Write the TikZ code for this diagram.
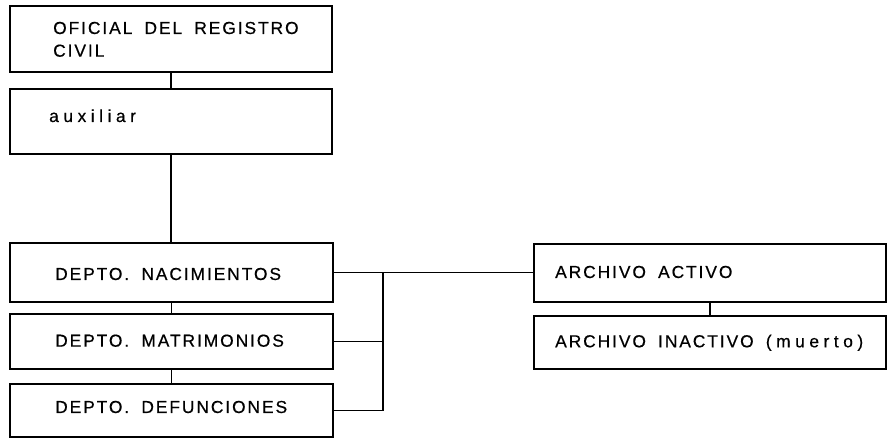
\documentclass[tikz,border=0pt]{standalone}
\usepackage{fontspec}
\setmainfont{Liberation Sans}[LetterSpace=11,WordSpace=1.8,FakeBold=0.5]
\newcommand{\widelc}[1]{{\addfontfeature{LetterSpace=26}#1}}
\begin{document}
\begin{tikzpicture}[x=1pt,y=-1pt,
  box/.style={draw, line width=2.2pt, rectangle, inner sep=0pt, anchor=north west},
  lbl/.style={anchor=base west, inner sep=0pt, font=\fontsize{17.4}{22.7}\selectfont},
  conn/.style={line width=1.4pt}]
\useasboundingbox (0,0) rectangle (887,438);
% boxes
\node[box, minimum width=322pt, minimum height=66pt] (b1) at (9,5) {};
\node[box, minimum width=322pt, minimum height=65pt] (b2) at (9,88) {};
\node[box, minimum width=323pt, minimum height=59pt] (b3) at (9,242) {};
\node[box, minimum width=323pt, minimum height=55pt] (b4) at (9,313) {};
\node[box, minimum width=323pt, minimum height=53pt] (b5) at (9,383) {};
\node[box, minimum width=352pt, minimum height=58pt] (b6) at (533,243) {};
\node[box, minimum width=352pt, minimum height=53pt] (b7) at (533,315) {};
% texts
\node[lbl] (t1) at (53,34) {OFICIAL DEL REGISTRO};
\node[lbl] (t1b) at (53,56.7) {CIVIL};
\node[lbl] (t2) at (49,122) {\widelc{auxiliar}};
\node[lbl] (t3) at (55,280) {DEPTO. NACIMIENTOS};
\node[lbl] (t4) at (55,346.7) {DEPTO. MATRIMONIOS};
\node[lbl] (t5) at (55,413) {DEPTO. DEFUNCIONES};
\node[lbl] (t6) at (555,278) {ARCHIVO ACTIVO};
\node[lbl] (t7) at (555,347.3) {ARCHIVO INACTIVO \widelc{(muerto)}};
% connectors
\coordinate (jx) at (383,0);
\draw[conn] (b1.south) -- (b2.north);
\draw[conn] (b2.south) -- (b2.south |- b3.north);
\draw[conn] (b3.south) -- (b3.south |- b4.north);
\draw[conn] (b4.south) -- (b4.south |- b5.north);
\draw[conn] (b6.south) -- (b6.south |- b7.north);
\draw[conn] (b3.east) -- (b3.east -| b6.west);
\draw[conn] (b4.east) -- (b4.east -| jx);
\draw[conn] (b5.east) -- (b5.east -| jx) -- (b3.east -| jx);
\end{tikzpicture}
\end{document}
